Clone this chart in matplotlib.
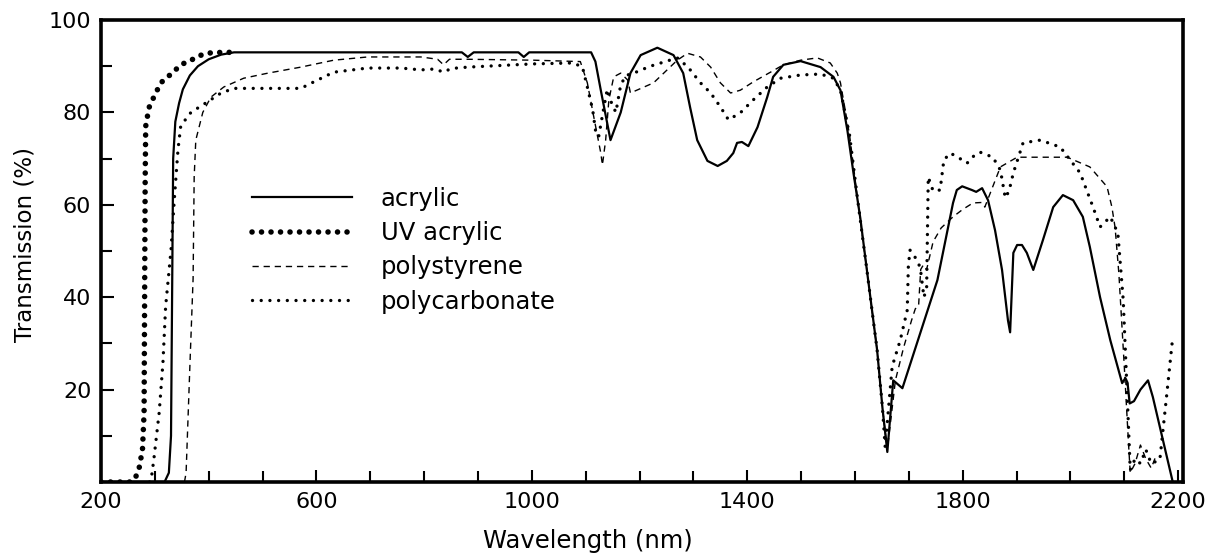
import matplotlib
matplotlib.use("Agg")
import matplotlib.pyplot as plt
from matplotlib.ticker import FixedLocator

plt.rcParams['font.family'] = ['DejaVu Sans']

# ---------------- data ----------------
acrylic_nm = [200, 318, 326, 330, 332, 334, 338, 345, 352, 365, 380, 400, 423, 447,
              870, 881, 892, 975, 985, 995, 1110, 1118, 1128, 1146, 1165, 1183, 1202,
              1233, 1263, 1281, 1294, 1307, 1326, 1345, 1362, 1374, 1381, 1390, 1402,
              1419, 1437, 1448, 1467, 1499, 1536, 1560, 1573, 1586, 1597, 1610, 1623,
              1641, 1651, 1660, 1671, 1688, 1753, 1782, 1789, 1799, 1817, 1825, 1836,
              1847, 1860, 1873, 1884, 1888, 1894, 1901, 1910, 1919, 1931, 1949, 1968,
              1986, 2005, 2023, 2036, 2055, 2074, 2096, 2102, 2106, 2110, 2118, 2130,
              2144, 2153, 2190]
acrylic_t = [0, 0, 2, 10, 40, 70, 78, 82, 85, 88, 90, 91.5, 92.5, 93,
             93, 92, 93, 93, 92, 93, 93, 91, 84.8, 74, 80, 88.5, 92.4,
             94, 92.4, 88.5, 81, 74, 69.5, 68.4, 69.5, 71.2, 73.4, 73.6, 72.7,
             76.8, 83.3, 87.7, 90.3, 91.1, 89.8, 87.7, 84.8, 76, 67, 57, 45,
             28.6, 16, 6.5, 22, 20.3, 43.7, 60.4, 63.2, 64, 63.2, 62.8, 63.6,
             61, 54.5, 45.9, 35, 32.4, 49.6, 51.3, 51.3, 49.6, 45.9, 52.4, 59.5,
             62.1, 61, 57.4, 50.9, 40, 30.7, 21.4, 22.5, 21.5, 17, 17.5, 20,
             22, 18.4, 0]

uv_acrylic_nm = [200, 255, 262, 270, 277, 280, 281, 282, 283, 289, 298, 311, 334,
                 348, 367, 386, 404, 426, 445]
uv_acrylic_t = [0, 0, 0.5, 2.5, 7, 15, 40, 65, 77, 81, 83.3, 86.4, 88.7,
                90.3, 91.3, 92.4, 92.9, 93, 93]

polystyrene_nm = [355, 358, 365, 371, 373, 376, 389, 404, 428, 465, 510, 571, 632,
                  695, 794, 825, 836, 847, 881, 1003, 1090, 1103, 1115, 1128, 1131,
                  1137, 1143, 1152, 1165, 1178, 1183, 1226, 1270, 1289, 1313, 1332,
                  1350, 1369, 1387, 1411, 1443, 1467, 1499, 1530, 1554, 1567, 1573,
                  1590, 1605, 1623, 1641, 1651, 1660, 1665, 1675, 1690, 1705, 1712,
                  1718, 1722, 1727, 1733, 1745, 1760, 1782, 1800, 1819, 1835, 1841,
                  1851, 1870, 1901, 1994, 2036, 2068, 2077, 2083, 2090, 2100, 2108,
                  2111, 2120, 2130, 2140, 2150, 2160]
polystyrene_t = [0, 2, 25, 44, 66, 74, 80, 83.3, 85.5, 87.4, 88.5, 89.8, 91.3,
                 92, 92, 91.5, 90.3, 91.5, 91.5, 91.3, 91, 86.4, 79, 71.2, 68.6,
                 74, 82.7, 87.7, 88.5, 87, 84.2, 86.4, 91.3, 92.8, 92, 89.8,
                 86.4, 84.2, 84.8, 86.6, 88.7, 90.3, 91.3, 91.8, 90.7, 88.5, 86.4,
                 75, 61, 45, 28.6, 16, 7, 12, 22, 29, 35, 37.5,
                 38, 46, 47, 46, 52, 55, 57.4, 59, 60.4, 60.5, 59.5,
                 62.5, 68.2, 70.3, 70.3, 68.2, 63.9, 59.5, 55, 45, 25, 8,
                 2, 4, 8, 5, 3, 6]

polycarbonate_nm = [290, 293, 298, 308, 315, 320, 330, 336, 343, 348, 352, 367, 398,
                    423, 447, 510, 571, 595, 632, 695, 757, 794, 820, 836, 850, 881,
                    1003, 1077, 1094, 1103, 1113, 1118, 1124, 1132, 1140, 1148, 1156,
                    1165, 1175, 1189, 1220, 1270, 1290, 1313, 1332, 1350, 1365, 1387,
                    1411, 1437, 1462, 1499, 1536, 1560, 1573, 1590, 1605, 1623, 1641,
                    1651, 1656, 1669, 1684, 1697, 1699, 1702, 1710, 1721, 1728, 1733,
                    1736, 1745, 1758, 1765, 1777, 1795, 1808, 1820, 1832, 1856, 1870,
                    1879, 1886, 1894, 1912, 1944, 1981, 2018, 2042, 2055, 2074, 2088,
                    2098, 2105, 2111, 2120, 2130, 2140, 2150, 2166, 2178, 2190]
polycarbonate_t = [0, 0.4, 4.8, 15, 25.8, 38, 50.2, 61, 72, 77, 77.7, 80, 82.3,
                   84.2, 85.2, 85.2, 85.2, 86.6, 88.7, 89.6, 89.6, 89.2, 89.4, 88.7, 89.5, 89.8,
                   90.5, 90.7, 89.8, 85.5, 80.5, 76.2, 74.7, 80, 85, 82, 80,
                   86, 88, 88.5, 90, 91.8, 89.8, 86.4, 84.2, 81.2, 78.4, 79.9,
                   82.7, 85.5, 87.4, 88.1, 88.3, 87.4, 84.8, 75, 61, 45, 28.6,
                   16, 7.6, 25, 30.7, 37.2, 46.5, 50.2, 49, 46.5, 40, 42,
                   66, 63, 63.2, 69.7, 71.2, 70, 69, 70.5, 71.4, 70.3, 67.5,
                   61.5, 63, 66.9, 73.4, 74, 72.5, 66.9, 59.5, 55.2, 57.4, 53.9,
                   39.4, 20, 2.6, 5, 4, 7, 4, 4.8, 18, 31.4]

x_tick_positions = list(range(300, 2200, 100))
x_tick_labels = [200, 600, 1000, 1400, 1800, 2200]
y_tick_labels = [20, 40, 60, 80, 100]
y_minor = [10, 30, 50, 70, 90]
labels = ['acrylic', 'UV acrylic', 'polystyrene', 'polycarbonate']

# ---------------- figure ----------------
fig = plt.figure(figsize=(12.14, 5.55), dpi=100)
ax = fig.add_axes([101/1214, 1-482/555, (1183-101)/1214, (482-20)/555])

ax.plot(polycarbonate_nm, polycarbonate_t, color='black', lw=2.4,
        linestyle=(0, (0.01, 2.6)), dash_capstyle='round', label=labels[3], zorder=2)
ax.plot(polystyrene_nm, polystyrene_t, color='black', lw=1.0,
        linestyle=(0, (4.5, 3.5)), label=labels[2], zorder=3)
ax.plot(uv_acrylic_nm, uv_acrylic_t, color='black', lw=4.0,
        linestyle=(0, (0.01, 1.7)), dash_capstyle='round', label=labels[1], zorder=2)
ax.plot(acrylic_nm, acrylic_t, color='black', lw=1.6, label=labels[0], zorder=4)

ax.set_xlim(200, 2209)
ax.set_ylim(0, 100)

ax.set_xticks(x_tick_labels)
ax.set_xticklabels([str(v) for v in x_tick_labels])
ax.xaxis.set_minor_locator(FixedLocator(x_tick_positions))
ax.set_yticks(y_tick_labels)
ax.set_yticklabels([str(v) for v in y_tick_labels])
ax.yaxis.set_minor_locator(FixedLocator(y_minor))

ax.tick_params(which='both', direction='in', width=1.5, color='black',
               labelsize=16, top=False, right=False)
ax.tick_params(which='major', length=9)
ax.tick_params(which='minor', length=8)
ax.tick_params(axis='x', which='major', pad=7)
ax.tick_params(axis='y', which='major', pad=7)

for s in ax.spines.values():
    s.set_linewidth(2.6)

h, l = ax.get_legend_handles_labels()
order = [l.index(n) for n in labels]
leg = ax.legend([h[i] for i in order], [l[i] for i in order],
                loc='upper left', bbox_to_anchor=(252/1214, 1-187/555),
                bbox_transform=fig.transFigure, frameon=False, fontsize=17.5,
                handlelength=4.1, handletextpad=1.2, labelspacing=0.42,
                borderpad=0, borderaxespad=0)

fig.text(588/1214, 1-541/555, 'Wavelength (nm)', ha='center', va='center', fontsize=17.5)
fig.text(25/1214, 1-245/555, 'Transmission (%)', ha='center', va='center',
         rotation=90, fontsize=16.5)

fig.savefig('out.png', dpi=100)
